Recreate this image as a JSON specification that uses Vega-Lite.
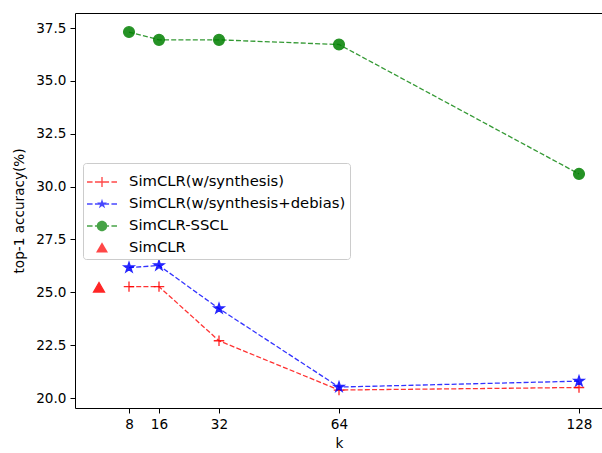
{
  "$schema": "https://vega.github.io/schema/vega-lite/v6.json",
  "autosize": "none",
  "padding": {"left": 75, "top": 13, "right": 0, "bottom": 45},
  "width": 528,
  "height": 395,
  "background": "white",
  "config": {
    "font": "DejaVu Sans",
    "view": {"stroke": "black", "strokeWidth": 1},
    "axis": {
      "grid": false,
      "domain": false,
      "tickColor": "black",
      "tickSize": 5,
      "labelColor": "black",
      "labelFontSize": 13.6,
      "titleColor": "black",
      "titleFontSize": 13.6,
      "titleFontWeight": "normal"
    }
  },
  "data": {
    "values": [
      {"series": "SimCLR(w/synthesis)", "k": 8, "acc": 25.27},
      {"series": "SimCLR(w/synthesis)", "k": 16, "acc": 25.27},
      {"series": "SimCLR(w/synthesis)", "k": 32, "acc": 22.71},
      {"series": "SimCLR(w/synthesis)", "k": 64, "acc": 20.38},
      {"series": "SimCLR(w/synthesis)", "k": 128, "acc": 20.5},
      {"series": "SimCLR(w/synthesis+debias)", "k": 8, "acc": 26.17},
      {"series": "SimCLR(w/synthesis+debias)", "k": 16, "acc": 26.27},
      {"series": "SimCLR(w/synthesis+debias)", "k": 32, "acc": 24.23},
      {"series": "SimCLR(w/synthesis+debias)", "k": 64, "acc": 20.52},
      {"series": "SimCLR(w/synthesis+debias)", "k": 128, "acc": 20.8},
      {"series": "SimCLR-SSCL", "k": 8, "acc": 37.31},
      {"series": "SimCLR-SSCL", "k": 16, "acc": 36.94},
      {"series": "SimCLR-SSCL", "k": 32, "acc": 36.94},
      {"series": "SimCLR-SSCL", "k": 64, "acc": 36.72},
      {"series": "SimCLR-SSCL", "k": 128, "acc": 30.6},
      {"series": "SimCLR", "k": 0, "acc": 25.24}
    ]
  },
  "encoding": {
    "x": {
      "field": "k", "type": "quantitative",
      "scale": {"domain": [-6.4, 134.4], "nice": false, "zero": false},
      "axis": {"values": [8, 16, 32, 64, 128], "title": "k", "titlePadding": 6, "labelPadding": 4}
    },
    "y": {
      "field": "acc", "type": "quantitative",
      "scale": {"domain": [19.53, 38.21], "nice": false, "zero": false},
      "axis": {"values": [20, 22.5, 25, 27.5, 30, 32.5, 35, 37.5], "format": ".1f", "title": "top-1 accuracy(%)", "titlePadding": 9, "labelPadding": 4}
    }
  },
  "resolve": {
    "scale": {"color": "independent", "shape": "independent"},
    "legend": {"color": "independent", "shape": "independent"}
  },
  "layer": [
    {
      "transform": [{"filter": "datum.series !== 'SimCLR'"}],
      "mark": {"type": "line", "strokeDash": [5, 2.2], "strokeWidth": 1.3, "opacity": 0.8, "clip": false},
      "encoding": {
        "stroke": {
          "field": "series", "type": "nominal",
          "scale": {"domain": ["SimCLR(w/synthesis)", "SimCLR(w/synthesis+debias)", "SimCLR-SSCL", "SimCLR"], "range": ["#ff0000", "#0000ff", "#008000", "#ff0000"]},
          "legend": null
        }
      }
    },
    {
      "mark": {"type": "point", "filled": true, "opacity": 0.85, "strokeWidth": 1.3, "clip": false},
      "encoding": {
        "fill": {
          "field": "series", "type": "nominal",
          "scale": {"domain": ["SimCLR(w/synthesis)", "SimCLR(w/synthesis+debias)", "SimCLR-SSCL", "SimCLR"], "range": ["#ff0000", "#0000ff", "#008000", "#ff0000"]},
          "legend": null
        },
        "stroke": {
          "field": "series", "type": "nominal",
          "scale": {"domain": ["SimCLR(w/synthesis)", "SimCLR(w/synthesis+debias)", "SimCLR-SSCL", "SimCLR"], "range": ["#ff0000", "#0000ff", "#008000", "#ff0000"]},
          "legend": null
        },
        "shape": {
          "field": "series", "type": "nominal",
          "scale": {"domain": ["SimCLR(w/synthesis)", "SimCLR(w/synthesis+debias)", "SimCLR-SSCL", "SimCLR"], "range": ["M-1,0H1M0,-1V1", "M0,-1L0.225,-0.309L0.951,-0.309L0.363,0.118L0.588,0.809L0,0.382L-0.588,0.809L-0.363,0.118L-0.951,-0.309L-0.225,-0.309Z", "circle", "triangle-up"]},
          "legend": null
        },
        "size": {
          "field": "series", "type": "nominal",
          "scale": {"domain": ["SimCLR(w/synthesis)", "SimCLR(w/synthesis+debias)", "SimCLR-SSCL", "SimCLR"], "range": [110, 120, 100, 150]},
          "legend": null
        }
      }
    },
    {
      "transform": [{"filter": "datum.k < -100"}],
      "mark": {"type": "point", "filled": true, "opacity": 0.85, "clip": false},
      "encoding": {
        "color": {
          "field": "series", "type": "nominal",
          "scale": {"domain": ["SimCLR(w/synthesis)", "SimCLR(w/synthesis+debias)", "SimCLR-SSCL", "SimCLR"], "range": ["#ff0000", "#0000ff", "#008000", "#ff0000"]},
          "legend": {
            "title": null,
            "orient": "none",
            "legendX": 8,
            "legendY": 150,
            "labelFontSize": 14.8,
            "labelColor": "black",
            "labelOffset": 12,
            "labelLimit": 0,
            "symbolSize": 900,
            "symbolOpacity": 0.85,
            "symbolStrokeWidth": 0,
            "rowPadding": -2,
            "padding": 4,
            "strokeColor": "#cccccc",
            "fillColor": "white",
            "cornerRadius": 3
          }
        },
        "shape": {
          "field": "series", "type": "nominal",
          "scale": {"domain": ["SimCLR(w/synthesis)", "SimCLR(w/synthesis+debias)", "SimCLR-SSCL", "SimCLR"], "range": [
            "M-1,-0.045H-0.63V0.045H-1ZM-0.47,-0.045H-0.1V0.045H-0.47ZM0.1,-0.045H0.47V0.045H0.1ZM0.63,-0.045H1V0.045H0.63ZM-0.33,-0.045H0.33V0.045H-0.33ZM-0.045,-0.33H0.045V0.33H-0.045Z",
            "M-1,-0.045H-0.63V0.045H-1ZM-0.47,-0.045H-0.1V0.045H-0.47ZM0.1,-0.045H0.47V0.045H0.1ZM0.63,-0.045H1V0.045H0.63ZM0,-0.35L0.079,-0.108L0.333,-0.108L0.127,0.041L0.206,0.283L0,0.134L-0.206,0.283L-0.127,0.041L-0.333,-0.108L-0.079,-0.108Z",
            "M-1,-0.045H-0.63V0.045H-1ZM-0.47,-0.045H-0.1V0.045H-0.47ZM0.1,-0.045H0.47V0.045H0.1ZM0.63,-0.045H1V0.045H0.63ZM-0.35,0A0.35,0.35,0,1,1,0.35,0A0.35,0.35,0,1,1,-0.35,0Z",
            "M0,-0.38L0.4,0.3L-0.4,0.3Z"
          ]},
          "legend": {"title": null}
        }
      }
    }
  ]
}
